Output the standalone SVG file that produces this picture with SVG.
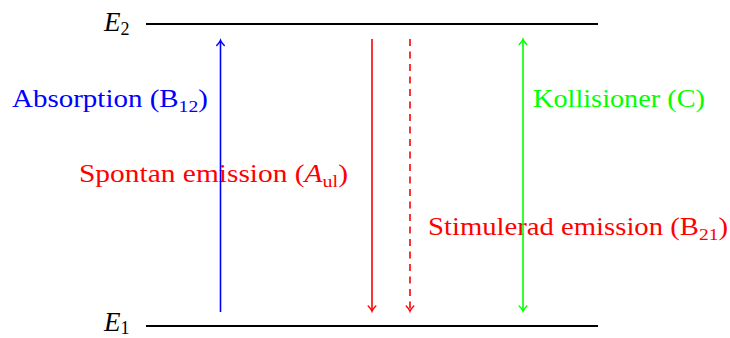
<svg xmlns="http://www.w3.org/2000/svg" width="730" height="338" viewBox="0 0 730 338">
<style>
text{font-family:"Liberation Serif","Times New Roman",serif;font-size:25px}
.sub{font-size:17px}
.lbl{font-size:27px}
.lsub{font-size:18px}
.lvl{stroke:#000;stroke-width:2;fill:none}
.arr{stroke-width:1.6;fill:none}
</style>
<defs>
<marker id="hb" markerUnits="userSpaceOnUse" markerWidth="12" markerHeight="12" refX="0" refY="0" viewBox="-6 -6 12 12" orient="auto-start-reverse" overflow="visible">
<path d="M-4.5,-3.8 Q-1.5,-0.8 0.8,0 Q-1.5,0.8 -4.5,3.8" fill="none" stroke="#0000ff" stroke-width="1.4" stroke-linecap="round"/>
</marker>
<marker id="hr" markerUnits="userSpaceOnUse" markerWidth="12" markerHeight="12" refX="0" refY="0" viewBox="-6 -6 12 12" orient="auto-start-reverse" overflow="visible">
<path d="M-4.5,-3.8 Q-1.5,-0.8 0.8,0 Q-1.5,0.8 -4.5,3.8" fill="none" stroke="#ff0000" stroke-width="1.4" stroke-linecap="round"/>
</marker>
<marker id="hg" markerUnits="userSpaceOnUse" markerWidth="12" markerHeight="12" refX="0" refY="0" viewBox="-6 -6 12 12" orient="auto-start-reverse" overflow="visible">
<path d="M-4.5,-3.8 Q-1.5,-0.8 0.8,0 Q-1.5,0.8 -4.5,3.8" fill="none" stroke="#00ff00" stroke-width="1.4" stroke-linecap="round"/>
</marker>
</defs>
<g id="level-E2">
<line class="lvl" x1="146" y1="24" x2="598" y2="24"/>
<text class="lbl" x="104" y="31"><tspan font-style="italic">E</tspan><tspan class="lsub" dy="4">2</tspan></text>
</g>
<g id="level-E1">
<line class="lvl" x1="146" y1="326" x2="598" y2="326"/>
<text class="lbl" x="104" y="331"><tspan font-style="italic">E</tspan><tspan class="lsub" dy="3">1</tspan></text>
</g>
<g id="labels">
<g id="label-absorption"><text x="12" y="107" fill="#0000ff" textLength="196" lengthAdjust="spacingAndGlyphs">Absorption (B<tspan class="sub" dy="5">12</tspan><tspan dy="-5">)</tspan></text></g>
<g id="label-spontan"><text x="79" y="182" fill="#ff0000" textLength="269" lengthAdjust="spacingAndGlyphs">Spontan emission (<tspan font-style="italic">A</tspan><tspan class="sub" dy="5">ul</tspan><tspan dy="-5">)</tspan></text></g>
<g id="label-stimulerad"><text x="428" y="235" fill="#ff0000" textLength="300" lengthAdjust="spacingAndGlyphs">Stimulerad emission (B<tspan class="sub" dy="5">21</tspan><tspan dy="-5">)</tspan></text></g>
<g id="label-kollisioner"><text x="533" y="107" fill="#00ff00" textLength="172" lengthAdjust="spacingAndGlyphs">Kollisioner (C)</text></g>
</g>
<g id="connectors">
<line class="arr" x1="220.5" y1="312" x2="220.5" y2="41" stroke="#0000ff" marker-end="url(#hb)"/>
<line class="arr" x1="372" y1="39" x2="372" y2="310.5" stroke="#ff0000" marker-end="url(#hr)"/>
<line class="arr" x1="410" y1="39" x2="410" y2="310.5" stroke="#ff0000" stroke-dasharray="7 5.5" marker-end="url(#hr)"/>
<line class="arr" x1="523" y1="40" x2="523" y2="310.5" stroke="#00ff00" marker-start="url(#hg)" marker-end="url(#hg)"/>
</g>
</svg>
